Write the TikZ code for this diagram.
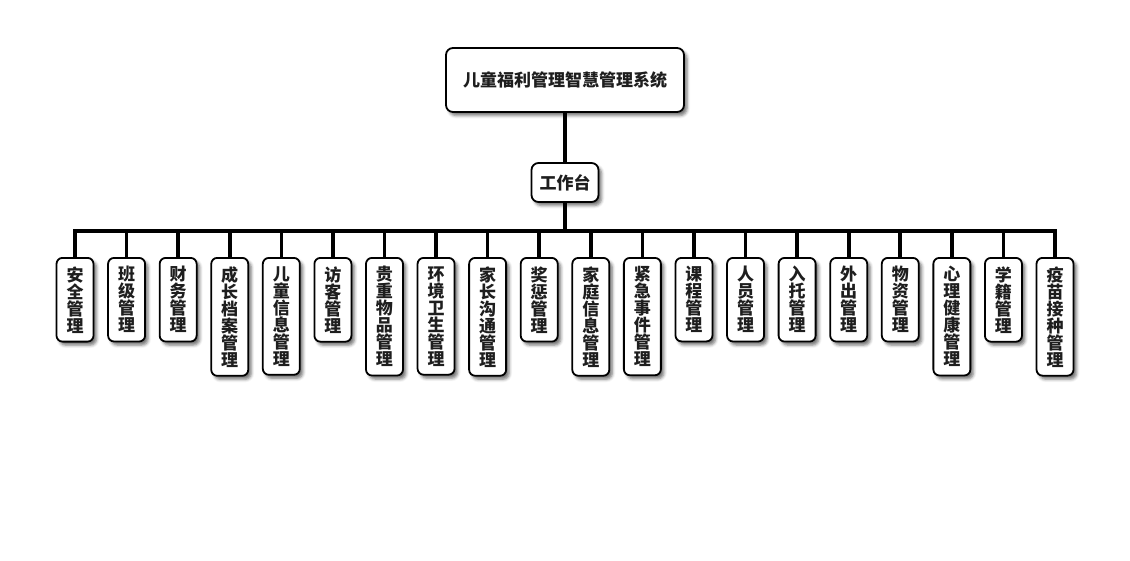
\documentclass[tikz,border=0pt]{standalone}
\usepackage{fontspec}
\setmainfont{Noto Sans CJK SC}
\usetikzlibrary{shadows.blur}
\pgfdeclarelayer{bg}
\pgfsetlayers{bg,main}
\definecolor{txt}{HTML}{1E1E1E}
\tikzset{
  box/.style={draw=black, line width=1.8pt, rounded corners=7pt, fill=white, text=txt,
    font=\fontsize{17}{17}\selectfont\bfseries,
    blur shadow={shadow xshift=3pt, shadow yshift=-3.5pt, shadow blur radius=3pt, shadow opacity=55}},
  leaf/.style={box, rounded corners=6pt, align=center, minimum width=37pt, inner xsep=0pt, inner ysep=8.5pt, anchor=north},
  conn/.style={draw=black, line width=3.6pt}
}
\begin{document}
\begin{tikzpicture}[x=1pt,y=-1pt]
\useasboundingbox (0,0) rectangle (1130,560);
\node[box, minimum width=238pt, minimum height=64pt] (root) at (565,80) {儿童福利管理智慧管理系统};
\node[box, minimum width=67pt, minimum height=39pt, inner sep=2pt] (wb) at (565,182.5) {工作台};
\foreach \t [count=\i from 0] in {
  {安\\全\\管\\理},{班\\级\\管\\理},{财\\务\\管\\理},{成\\长\\档\\案\\管\\理},
  {儿\\童\\信\\息\\管\\理},{访\\客\\管\\理},{贵\\重\\物\\品\\管\\理},{环\\境\\卫\\生\\管\\理},
  {家\\长\\沟\\通\\管\\理},{奖\\惩\\管\\理},{家\\庭\\信\\息\\管\\理},{紧\\急\\事\\件\\管\\理},
  {课\\程\\管\\理},{人\\员\\管\\理},{入\\托\\管\\理},{外\\出\\管\\理},
  {物\\资\\管\\理},{心\\理\\健\\康\\管\\理},{学\\籍\\管\\理},{疫\\苗\\接\\种\\管\\理}}
{
  \node[leaf] (c\i) at ({75+\i*51.58},257) {\t};
}
\begin{pgfonlayer}{bg}
  \draw[conn] (root.south) -- (wb.north);
  \foreach \i in {0,...,19}{
    \draw[conn] (wb.south) -- ++(0,28) -| (c\i.north);
  }
\end{pgfonlayer}
\end{tikzpicture}
\end{document}
